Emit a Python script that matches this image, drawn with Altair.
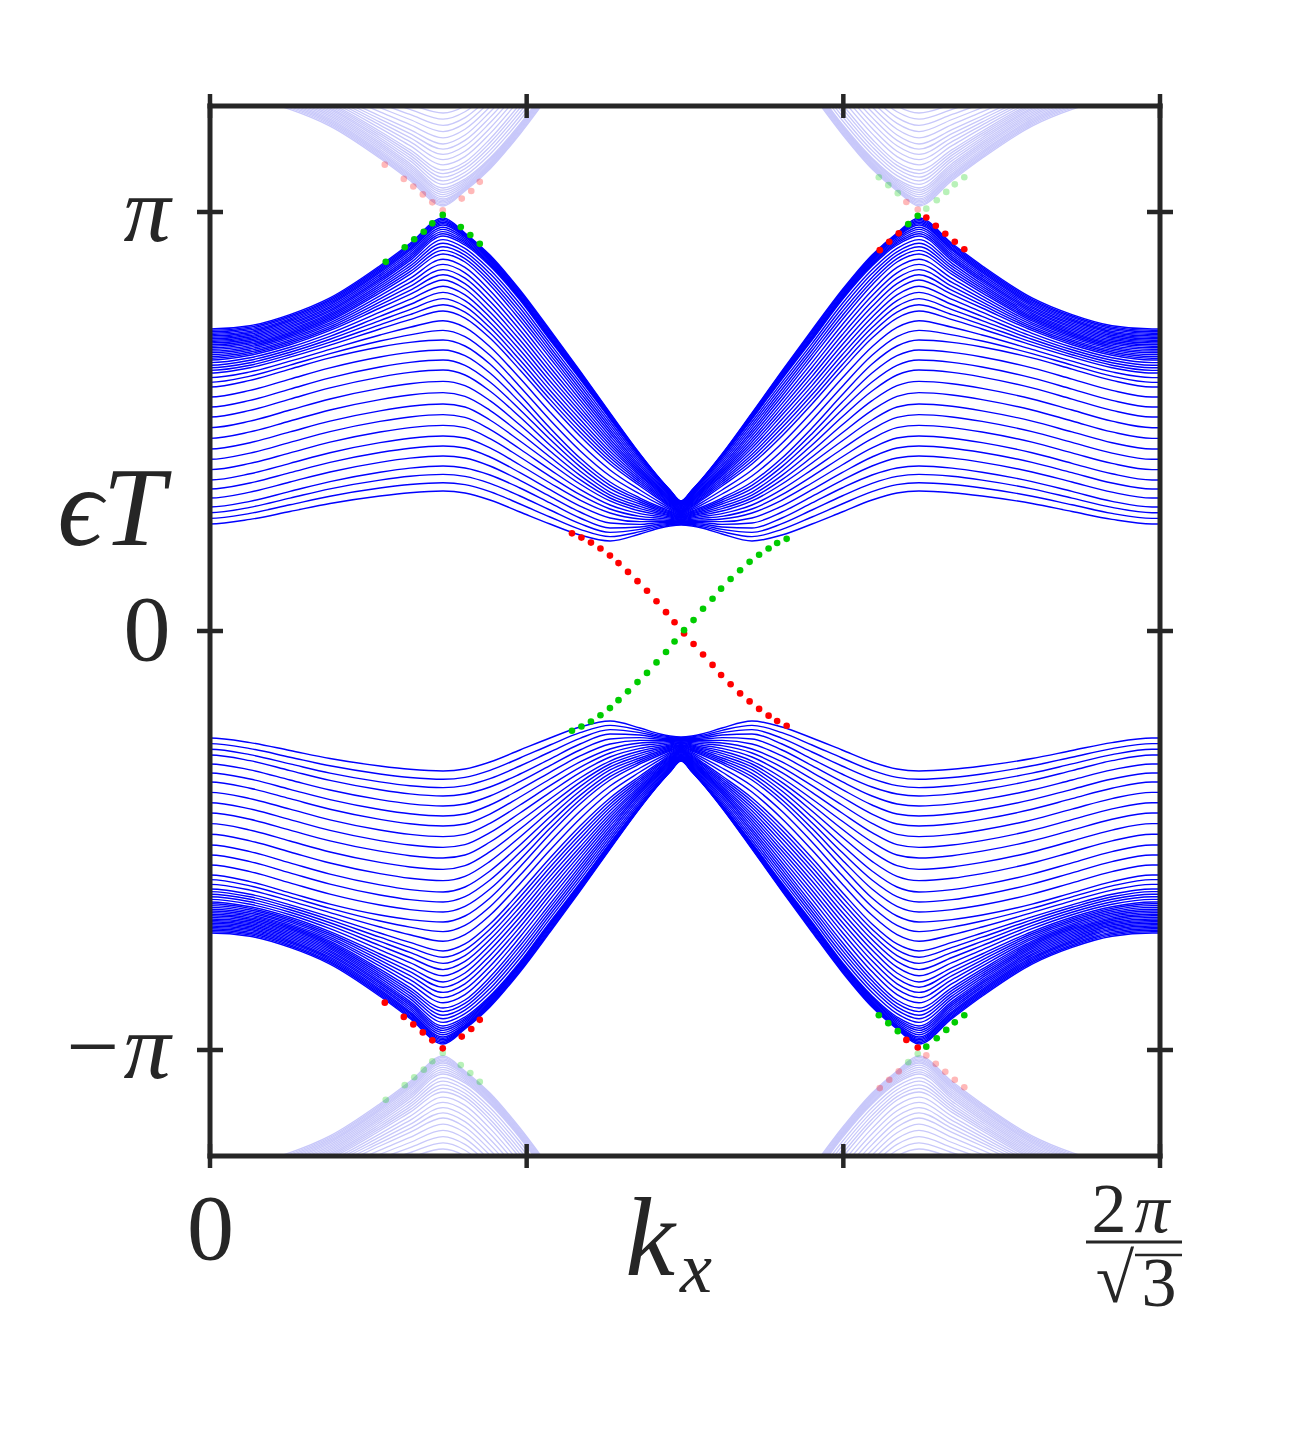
import numpy as np
import pandas as pd
import altair as alt

# ---------------- data (kx in units of 2pi/sqrt3, quasienergy eps*T in units of pi) -------------
# sampled kx positions for the left half of the upper bulk band group (right half is its mirror)
KX = [0.0, 0.0421, 0.0842, 0.1263, 0.1789, 0.2105, 0.2453, 0.2684, 0.2947, 0.3263,
      0.3579, 0.3895, 0.4211, 0.4526, 0.4737, 0.4842, 0.4958]
N_BANDS = 44
KNOT_J = [0, 5, 10, 15, 20, 25, 28, 31, 34, 37, 40, 43]
BAND_J0 = [0.7208, 0.7286, 0.7551, 0.7950, 0.8718, 0.9248, 0.9857, 0.9499, 0.8974, 0.8138, 0.7184, 0.6205, 0.5203, 0.4224, 0.3628, 0.3365, 0.3103]
BAND_J5 = [0.7041, 0.7119, 0.7384, 0.7783, 0.8551, 0.9081, 0.9690, 0.9403, 0.8854, 0.7995, 0.7017, 0.6110, 0.5131, 0.4177, 0.3604, 0.3341, 0.3079]
BAND_J10 = [0.6874, 0.6950, 0.7205, 0.7589, 0.8329, 0.8840, 0.9427, 0.9212, 0.8711, 0.7900, 0.6945, 0.6014, 0.5060, 0.4153, 0.3580, 0.3317, 0.3055]
BAND_J15 = [0.6683, 0.6776, 0.7029, 0.7401, 0.8072, 0.8511, 0.8998, 0.8807, 0.8258, 0.7422, 0.6516, 0.5609, 0.4726, 0.3890, 0.3413, 0.3198, 0.2983]
BAND_J20 = [0.6468, 0.6582, 0.6831, 0.7174, 0.7709, 0.8033, 0.8377, 0.8162, 0.7613, 0.6826, 0.5967, 0.5155, 0.4368, 0.3699, 0.3294, 0.3079, 0.2888]
BAND_J25 = [0.6158, 0.6284, 0.6535, 0.6823, 0.7208, 0.7430, 0.7637, 0.7470, 0.6993, 0.6229, 0.5418, 0.4654, 0.3986, 0.3461, 0.3126, 0.2959, 0.2816]
BAND_J28 = [0.5823, 0.5981, 0.6251, 0.6518, 0.6778, 0.6888, 0.6945, 0.6802, 0.6372, 0.5632, 0.4845, 0.4129, 0.3556, 0.3174, 0.2959, 0.2864, 0.2768]
BAND_J31 = [0.5107, 0.5265, 0.5535, 0.5802, 0.6060, 0.6172, 0.6229, 0.6110, 0.5728, 0.5107, 0.4439, 0.3819, 0.3317, 0.3031, 0.2864, 0.2792, 0.2721]
BAND_J34 = [0.4344, 0.4494, 0.4752, 0.5010, 0.5255, 0.5363, 0.5418, 0.5346, 0.5036, 0.4535, 0.4010, 0.3508, 0.3103, 0.2864, 0.2768, 0.2721, 0.2673]
BAND_J37 = [0.3604, 0.3752, 0.4002, 0.4255, 0.4496, 0.4601, 0.4654, 0.4606, 0.4368, 0.3962, 0.3532, 0.3126, 0.2816, 0.2673, 0.2649, 0.2637, 0.2625]
BAND_J40 = [0.2959, 0.3095, 0.3332, 0.3566, 0.3790, 0.3888, 0.3938, 0.3890, 0.3723, 0.3413, 0.3055, 0.2697, 0.2458, 0.2482, 0.2554, 0.2566, 0.2578]
BAND_J43 = [0.2554, 0.2663, 0.2852, 0.3043, 0.3222, 0.3301, 0.3341, 0.3294, 0.3126, 0.2840, 0.2554, 0.2291, 0.2148, 0.2315, 0.2458, 0.2506, 0.2530]

# edge states (dots)
MID_KX = [0.381, 0.391, 0.401, 0.411, 0.421, 0.430, 0.440, 0.450, 0.460, 0.470, 0.480, 0.489,
          0.499, 0.509, 0.519, 0.529, 0.538, 0.548, 0.558, 0.568, 0.578, 0.588, 0.597, 0.607]
MID_RED = [0.233, 0.223, 0.211, 0.197, 0.180, 0.162, 0.141, 0.119, 0.096, 0.071, 0.045, 0.021,
           -0.006, -0.031, -0.056, -0.081, -0.105, -0.127, -0.149, -0.168, -0.186, -0.202, -0.215, -0.226]
MID_GREEN = [-0.238, -0.228, -0.216, -0.201, -0.184, -0.165, -0.144, -0.122, -0.100, -0.075, -0.050, -0.025,
             0.002, 0.026, 0.053, 0.077, 0.101, 0.124, 0.145, 0.165, 0.182, 0.197, 0.210, 0.220]
TL_KX = [0.185, 0.205, 0.215, 0.225, 0.234, 0.245, 0.264, 0.274, 0.284]
TL_EPS = [0.881, 0.916, 0.935, 0.953, 0.973, 0.993, 0.964, 0.945, 0.924]
TL_EDGE = ["b"] * 9
BL_KX = [0.184, 0.204, 0.214, 0.224, 0.234, 0.245, 0.265, 0.275, 0.284]
BL_EPS = [-0.887, -0.921, -0.939, -0.958, -0.977, -0.996, -0.968, -0.950, -0.928]
BL_EDGE = ["a"] * 9
TR_KX = [0.705, 0.715, 0.725, 0.735, 0.745, 0.754, 0.764, 0.774, 0.784, 0.794]
TR_EPS = [0.909, 0.929, 0.949, 0.971, 0.991, 0.987, 0.967, 0.948, 0.929, 0.911]
TR_EDGE = ["a", "a", "a", "b", "b", "a", "a", "a", "a", "a"]
BR_KX = [0.704, 0.714, 0.724, 0.733, 0.745, 0.754, 0.765, 0.775, 0.784, 0.794]
BR_EPS = [-0.917, -0.936, -0.955, -0.976, -0.994, -0.992, -0.972, -0.952, -0.934, -0.917]
BR_EDGE = ["b", "b", "b", "a", "a", "b", "b", "b", "b", "b"]

Y_TICKS = [-1, 0, 1]
X_TICKS = [0, 1 / 3, 2 / 3, 1]

# ---------------- build tables ----------------
kx_l = np.array(KX)
c = kx_l[-1]
kx_full = np.concatenate([[-kx_l[1]], kx_l, 2 * c - kx_l[-2::-1], [1.0, 1.0 + kx_l[1]]])


def full(v):
    v = np.asarray(v, dtype=float)
    return np.concatenate([[v[1]], v, v[-2::-1], [v[0], v[1]]])


knot_rows = np.array([full(r) for r in [BAND_J0, BAND_J5, BAND_J10, BAND_J15, BAND_J20, BAND_J25,
                                         BAND_J28, BAND_J31, BAND_J34, BAND_J37, BAND_J40, BAND_J43]])
J = np.array(KNOT_J, dtype=float)
main_recs, faint_recs = [], []
for j in range(N_BANDS):
    eps = np.array([np.interp(j, J, knot_rows[:, m]) for m in range(len(kx_full))])
    for k, e in zip(kx_full, eps):
        main_recs.append({"kx": k, "eps": e, "line": f"u{j}"})
        main_recs.append({"kx": k, "eps": -e, "line": f"l{j}"})
        faint_recs.append({"kx": k, "eps": e - 2, "line": f"u{j}"})
        faint_recs.append({"kx": k, "eps": -e + 2, "line": f"l{j}"})
df_main = pd.DataFrame(main_recs)
df_faint = pd.DataFrame(faint_recs)

dots = []
for k, e in zip(MID_KX, MID_RED):
    dots.append({"kx": k, "eps": e, "edge": "a"})
for k, e in zip(MID_KX, MID_GREEN):
    dots.append({"kx": k, "eps": e, "edge": "b"})
for KXS, ES, ED in [(TL_KX, TL_EPS, TL_EDGE), (BL_KX, BL_EPS, BL_EDGE), (TR_KX, TR_EPS, TR_EDGE), (BR_KX, BR_EPS, BR_EDGE)]:
    for k, e, d in zip(KXS, ES, ED):
        dots.append({"kx": k, "eps": e, "edge": d})
df_dots = pd.DataFrame(dots)
df_dots_faint = pd.concat([df_dots.assign(eps=df_dots.eps + 2), df_dots.assign(eps=df_dots.eps - 2)])

# ---------------- chart ----------------
W, H = 950, 1050
AX = "#262626"
FONT = "Liberation Serif"
xs = alt.Scale(domain=[0, 1], nice=False, zero=False)
ys = alt.Scale(domain=[-1.253, 1.253], nice=False, zero=False)
xaxis = alt.Axis(values=X_TICKS, labelExpr="datum.value == 0 ? '0' : ''", ticks=False, domain=False,
                 grid=False, title=None, labelFont=FONT, labelFontSize=94, labelColor=AX,
                 labelPadding=28, labelFlush=False, labelOverlap=False)
yaxis = alt.Axis(values=Y_TICKS, labelExpr="datum.value > 0.5 ? 'π' : (datum.value < -0.5 ? '−π' : '0')",
                 ticks=False, domain=False, grid=False, title=None, labelFont=FONT, labelFontSize=94,
                 labelColor=AX, labelPadding=40, labelOverlap=False, labelBaseline="middle",
                 labelFontStyle={"condition": {"test": "datum.value == 0", "value": "normal"}, "value": "italic"})
X = alt.X("kx:Q", scale=xs, axis=xaxis)
Y = alt.Y("eps:Q", scale=ys, axis=yaxis)
edge_color = alt.Color("edge:N", scale=alt.Scale(domain=["a", "b"], range=["#ff0000", "#00cc00"]), legend=None)

faint_lines = alt.Chart(df_faint).mark_line(color="#c8c8fa", strokeWidth=1.3, clip=True, interpolate="monotone").encode(
    x=X, y=Y, detail="line:N")
faint_dots = alt.Chart(df_dots_faint).mark_circle(size=44, opacity=0.28, clip=True).encode(x=X, y=Y, color=edge_color)
main_lines = alt.Chart(df_main).mark_line(color="#0000ff", strokeWidth=1.4, clip=True, interpolate="monotone").encode(
    x=X, y=Y, detail="line:N")
main_dots = alt.Chart(df_dots).mark_circle(size=44, opacity=1, clip=True).encode(x=X, y=Y, color=edge_color)

ytick_df = pd.DataFrame({"eps": Y_TICKS})
xtick_df = pd.DataFrame({"kx": X_TICKS})
one = pd.DataFrame({"a": [0]})
tick_l = alt.Chart(ytick_df).mark_rule(color=AX, strokeWidth=4.5).encode(y=Y, x=alt.value(-13), x2=alt.value(13))
tick_r = alt.Chart(ytick_df).mark_rule(color=AX, strokeWidth=4.5).encode(y=Y, x=alt.value(W - 13), x2=alt.value(W + 13))
tick_t = alt.Chart(xtick_df).mark_rule(color=AX, strokeWidth=4.5).encode(x=X, y=alt.value(-12), y2=alt.value(12))
tick_b = alt.Chart(xtick_df).mark_rule(color=AX, strokeWidth=4.5).encode(x=X, y=alt.value(H - 12), y2=alt.value(H + 12))
frame = [
    alt.Chart(one).mark_rule(color=AX, strokeWidth=5, strokeCap="square").encode(x=alt.value(0), x2=alt.value(W), y=alt.value(0)),
    alt.Chart(one).mark_rule(color=AX, strokeWidth=5, strokeCap="square").encode(x=alt.value(0), x2=alt.value(W), y=alt.value(H)),
    alt.Chart(one).mark_rule(color=AX, strokeWidth=5, strokeCap="square").encode(x=alt.value(0), y=alt.value(0), y2=alt.value(H)),
    alt.Chart(one).mark_rule(color=AX, strokeWidth=5, strokeCap="square").encode(x=alt.value(W), y=alt.value(0), y2=alt.value(H)),
]


def txt(s, x, y, size, style="italic", align="center"):
    return alt.Chart(one).mark_text(text=s, font=FONT, fontSize=size, fontStyle=style, align=align,
                                    baseline="alphabetic", color=AX).encode(x=alt.value(x), y=alt.value(y))


labels = [
    txt("ϵT", -45, 439, 112, align="right"),
    txt("k", 440, 1169, 112),
    txt("x", 486, 1186, 72),
    txt("2", 899, 1126, 70, style="normal"),
    txt("π", 942, 1126, 70),
    txt("√", 905, 1196, 70, style="normal"),
    txt("3", 949, 1200, 70, style="normal"),
    alt.Chart(one).mark_rule(color=AX, strokeWidth=3).encode(x=alt.value(876), x2=alt.value(972), y=alt.value(1136)),
    alt.Chart(one).mark_rule(color=AX, strokeWidth=2.5).encode(x=alt.value(925), x2=alt.value(972), y=alt.value(1149)),
]

chart = alt.layer(faint_lines, faint_dots, main_lines, main_dots, tick_l, tick_r, tick_t, tick_b, *frame, *labels).properties(
    width=W, height=H, autosize=alt.AutoSizeParams(type="none"),
    padding={"left": 202, "top": 98, "right": 120, "bottom": 250},
).configure_view(stroke=None)

chart.save("out.html", embed_options={"renderer": "svg", "actions": False})
